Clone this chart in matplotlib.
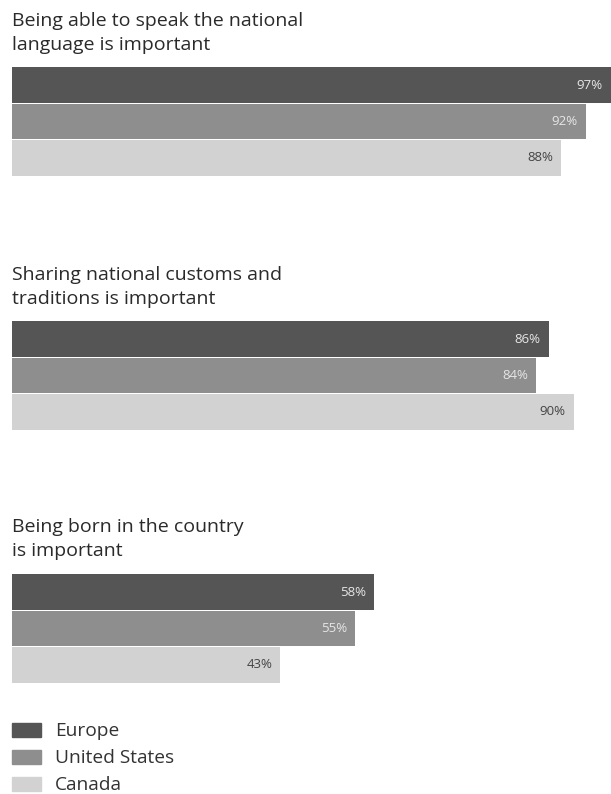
import matplotlib.pyplot as plt
from matplotlib.patches import Rectangle

plt.rcParams['font.family'] = ['Open Sans', 'DejaVu Sans']

questions = [['Being able to speak the national', 'language is important'],
             ['Sharing national customs and', 'traditions is important'],
             ['Being born in the country', 'is important']]
regions = ['Europe', 'United States', 'Canada']
europe = [97, 86, 58]
united_states = [92, 84, 55]
canada = [88, 90, 43]

colors = ['#555555', '#8e8e8e', '#d2d2d2']
label_colors = ['#e6e6e6', '#e6e6e6', '#444444']

W, H = 611, 794
fig = plt.figure(figsize=(W / 100, H / 100), dpi=100)

# pixel tops of each block of bars and baselines of each title
bar_tops = [67, 321, 574]
title_base = [26, 280, 532]
block_h = 109
left = 12

for i, q in enumerate(questions):
    vals = [europe[i], united_states[i], canada[i]]
    ax = fig.add_axes([left / W, (H - bar_tops[i] - block_h) / H, 1 - left / W, block_h / H])
    ax.barh(range(3), vals, height=0.98, color=colors)
    for j, v in enumerate(vals):
        xt = min(v, 96) - 1.3
        ax.text(xt, j, f'{v}%', ha='right', va='center', fontsize=9.5,
                color=label_colors[j])
    ax.set_xlim(0, 96)
    ax.set_ylim(2.5, -0.5)
    ax.axis('off')
    for n, line in enumerate(q):
        fig.text(left / W, 1 - (title_base[i] + 24 * n) / H, line, ha='left',
                 va='baseline', fontsize=14, fontweight='medium', color='#2a2a2a')

# legend swatches
leg_tops = [723, 750, 777]
for k, name in enumerate(regions):
    fig.add_artist(Rectangle((left / W, 1 - (leg_tops[k] + 14) / H), 29 / W, 14 / H,
                             transform=fig.transFigure, color=colors[k]))
    fig.text(55 / W, 1 - (leg_tops[k] + 13) / H, name, ha='left', va='baseline',
             fontsize=13.8, color='#333333')

fig.savefig('out.png', dpi=100)
